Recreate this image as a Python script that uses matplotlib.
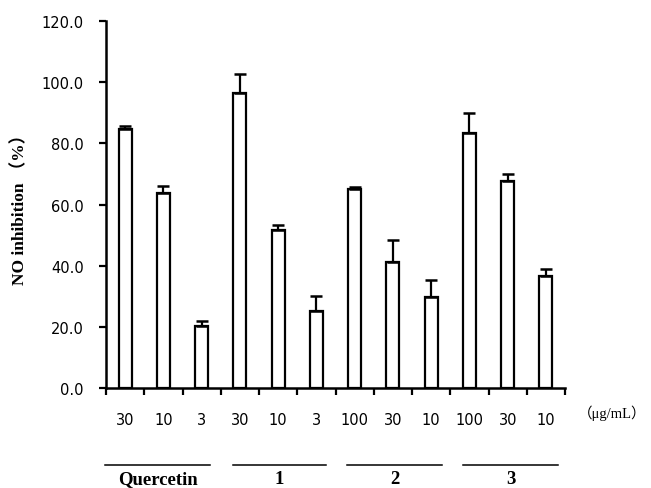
import numpy as np
import matplotlib
matplotlib.use('Agg')
import matplotlib.pyplot as plt
import matplotlib.transforms as mtransforms

# Data
groups = ['Quercetin', '1', '2', '3']
doses = ['30', '10', '3', '30', '10', '3', '100', '30', '10', '100', '30', '10']
values = [84.6, 63.6, 20.2, 96.6, 51.6, 25.2, 65.0, 41.3, 29.7, 83.4, 67.7, 36.5]
errors = [1.1, 2.3, 1.6, 6.0, 1.6, 5.0, 0.8, 7.2, 5.7, 6.4, 2.4, 2.3]

serif = ['Liberation Serif', 'Noto Sans CJK SC', 'DejaVu Sans']
sans = ['DejaVu Sans']

fig = plt.figure(figsize=(6.51, 4.89), dpi=100)
ax = fig.add_axes([0.163, 0.2045, 0.705, 0.7505])

x = np.arange(len(values))
ax.bar(x, values, width=0.34, color='white', edgecolor='black', linewidth=1.6, zorder=2)
ax.errorbar(x, values, yerr=[np.zeros(len(errors)), errors], fmt='none',
            ecolor='black', elinewidth=1.6, capsize=4, capthick=1.8, zorder=3)

ax.set_xlim(-0.5, len(values) - 0.5)
ax.set_ylim(0, 120)
ax.set_yticks(np.arange(0, 121, 20))
ax.set_yticklabels(['%.1f' % v for v in np.arange(0, 121, 20)], family=sans, fontsize=10.5)

# major ticks at category borders, labels at centres
ax.set_xticks(np.arange(-0.5, len(values), 1.0))
ax.set_xticklabels([])
ax.set_xticks(x, minor=True)
ax.set_xticklabels(doses, minor=True, family=sans, fontsize=10.5)
ax.tick_params(axis='x', which='minor', length=0, pad=17)
ax.tick_params(axis='x', which='major', direction='out', length=5, width=1.6)
ax.tick_params(axis='y', direction='out', length=5, width=1.6, pad=11)

for s in ['top', 'right']:
    ax.spines[s].set_visible(False)
for s in ['left', 'bottom']:
    ax.spines[s].set_linewidth(1.8)

ax.set_ylabel('NO inhibition （%）', family=serif, fontweight='bold', fontsize=12.5, labelpad=10)

# group lines and labels under the axis
trans = mtransforms.blended_transform_factory(ax.transData, ax.transAxes)
spans = [(-0.53, 2.22), (2.82, 5.25), (5.80, 8.28), (8.83, 11.32)]
for name, (a, b) in zip(groups, spans):
    ax.plot([a, b], [-0.210, -0.210], color='black', linewidth=1.1, transform=trans, clip_on=False)
    ax.text((a + b) / 2, -0.247, name, transform=trans, ha='center', va='center',
            family=serif, fontweight='bold', fontsize=13.5)

fig.text(0.94, 0.154, '（μg/mL）', ha='center', va='center', family=serif, fontsize=10.5)

fig.savefig('out.png', dpi=100)
